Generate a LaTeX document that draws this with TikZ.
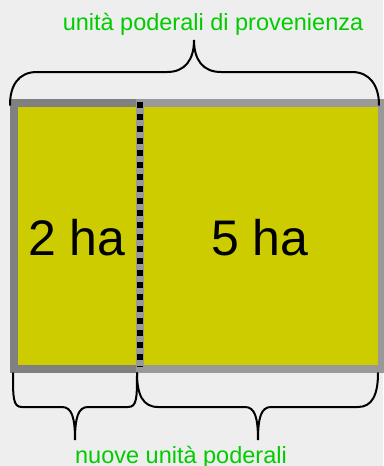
\documentclass[tikz,border=0pt]{standalone}
\usepackage{fontspec}
\setmainfont{Liberation Sans}
\definecolor{bg}{HTML}{EEEEEE}
\definecolor{fieldfill}{HTML}{CCCC00}
\definecolor{darkborder}{HTML}{808080}
\definecolor{lightborder}{HTML}{999999}
\definecolor{labelgreen}{HTML}{00CC00}
\begin{document}
\begin{tikzpicture}[x=1pt,y=-1pt,
  brace/.style={line width=2pt, black, line cap=round},
  greenlabel/.style={text=labelgreen, font=\fontsize{23.5}{28}\selectfont, anchor=base, inner sep=0pt},
  arealabel/.style={font=\fontsize{50}{60}\selectfont, anchor=base, inner sep=0pt},
  field/.style={fill=fieldfill, line width=8pt}]
\fill[bg] (0,0) rectangle (383,466);
\useasboundingbox (0,0) rectangle (383,466);
% fields
\filldraw[field, draw=darkborder] (14,103) rectangle (139.5,369);
\filldraw[field, draw=lightborder] (139.5,103) rectangle (382,369);
% divider
\coordinate (divtop) at (139.5,101.7);
\coordinate (divbot) at (139.5,367);
\draw[black, line width=6pt, dash pattern=on 6.7pt off 5.3pt] (divtop) -- (divbot);
% area labels
\node[arealabel] (two) at (77,255) {2 ha};
\node[arealabel] (five) at (260,255) {5 ha};
% top brace
\draw[brace] (10,105) .. controls (10,86) and (18,72) .. (37,72) -- (167,72)
  .. controls (185,72) and (194,60) .. (194,40)
  .. controls (194,60) and (203,72) .. (221,72) -- (352,72)
  .. controls (370,72) and (379,86) .. (379,105);
% bottom left brace
\draw[brace] (13,373) .. controls (13,398) and (13,407) .. (22,407) -- (62,407)
  .. controls (72,407) and (75,418) .. (75,440)
  .. controls (75,418) and (78,407) .. (88,407) -- (128,407)
  .. controls (137,407) and (137,398) .. (137,373);
% bottom right brace
\draw[brace] (137,373) .. controls (137,395) and (143,407) .. (158,407) -- (245,407)
  .. controls (255,407) and (258,418) .. (258,440)
  .. controls (258,418) and (261,407) .. (271,407) -- (358,407)
  .. controls (372,407) and (378,395) .. (378,373);
% labels
\node[greenlabel] (top) at (213,30) {unità poderali di provenienza};
\node[greenlabel] (bottom) at (181,463) {nuove unità poderali};
\end{tikzpicture}
\end{document}
